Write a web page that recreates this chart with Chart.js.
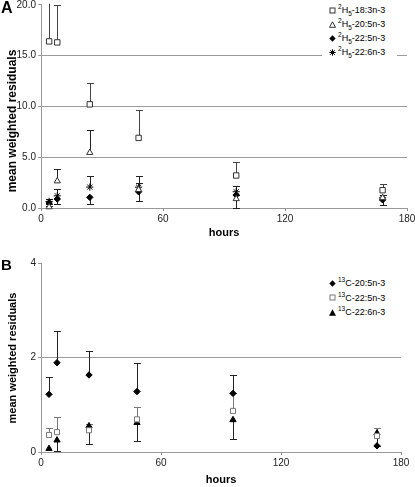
<!DOCTYPE html>
<html><head><meta charset="utf-8">
<script src="https://cdn.jsdelivr.net/npm/chart.js@4.4.0/dist/chart.umd.min.js"></script>
<style>
html,body{margin:0;padding:0;background:#fff;}
#wrap{position:relative;width:415px;height:487px;overflow:hidden;font-family:"Liberation Sans",Arial,sans-serif;}
canvas{position:absolute;left:0;}
.panel{position:absolute;font-weight:bold;color:#000;line-height:1;}
.ytitle{position:absolute;font-weight:bold;color:#000;white-space:nowrap;line-height:1;transform-origin:center;transform:translate(-50%,-50%) rotate(-90deg);}
.legend{position:absolute;background:#fff;}
.lrow{position:absolute;height:12px;font-size:9px;line-height:12px;white-space:nowrap;color:#000;}
.lrow svg{position:absolute;left:0;top:2.5px;}
.lrow span{position:absolute;left:9px;top:0;}
sup,sub{font-size:6.5px;line-height:0;}
</style></head>
<body>
<div id="wrap">
  <canvas id="cA" width="415" height="240" style="top:0"></canvas>
  <canvas id="cB" width="415" height="247" style="top:240px"></canvas>
  <div class="panel" style="left:1px;top:0px;font-size:16px">A</div>
  <div class="panel" style="left:1px;top:257px;font-size:15px">B</div>
  <div class="ytitle" style="left:12px;top:121px;font-size:12px">mean weighted residuals</div>
  <div class="ytitle" style="left:12px;top:358px;font-size:11px">mean weighted residuals</div>
  <div class="legend" id="legA" style="left:322px;top:2px;width:75px;height:58px"></div>
  <div class="legend" id="legB" style="left:322px;top:274px;width:75px;height:46px"></div>
</div>
<script>
// ---------- data ----------
const hoursA = [4, 8, 24, 48, 96, 168];
const seriesA = ['18:3n-3', '20:5n-3', '22:5n-3', '22:6n-3'];
const h183 = [16.4, 16.3, 10.2, 6.9, 3.2, 1.75];
const h183Plus = [8.0, 3.7, 2.1, 2.7, 1.3, 0.65];
const h205 = [0.1, 2.65, 5.45, 1.8, 0.9, 1.0];
const h205Plus = [0.25, 1.15, 2.2, 0.7, 0.4, 0.25];
const h225 = [0.5, 0.88, 1.05, 1.6, 1.27, 0.8];
const h225Minus = [0.35, 0.48, 0.7, 0.9, 1.27, 0.5];
const h226 = [0.65, 1.2, 2.06, 2.05, 1.6, 1.0];
const h226Plus = [0.2, 0.63, 1.1, 1.1, 0.56, 0.27];
const ticksA = [0, 5, 10, 15, 20];

const hoursB = [4, 8, 24, 48, 96, 168];
const seriesB = ['20:5n-3', '22:5n-3', '22:6n-3'];
const c205 = [1.22, 1.89, 1.63, 1.28, 1.24, 0.13];
const c205Plus = [0.36, 0.68, 0.51, 0.60, 0.39, 0];
const c225 = [0.36, 0.42, 0.46, 0.69, 0.87, 0.34];
const c225Plus = [0.14, 0.33, 0.14, 0.27, 0.37, 0.16];
const c226 = [0.07, 0.25, 0.55, 0.62, 0.68, 0.40];
const c226Minus = [0, 0.22, 0.38, 0.39, 0.41, 0.27];
const ticksB = [0, 2, 4];

const xTicks = [0, 60, 120, 180];

// ---------- helpers ----------
Chart.defaults.font.family = '"Liberation Sans", Arial, sans-serif';
const pts = (xs, ys) => xs.map((x, i) => ({x: x, y: ys[i]}));

const errorBars = {
  id: 'errorBars',
  beforeDatasetsDraw(chart) {
    const {ctx, chartArea: a, scales: {x, y}} = chart;
    ctx.save();
    ctx.beginPath();
    ctx.rect(a.left - 10, a.top - 1, a.right - a.left + 20, a.bottom - a.top + 2);
    ctx.clip();
    ctx.lineWidth = 1;
    chart.data.datasets.forEach(ds => {
      ctx.strokeStyle = ds.errColor || '#000';
      ds.data.forEach((p, i) => {
        const px = Math.round(x.getPixelForValue(p.x)) + 0.5;
        const py0 = y.getPixelForValue(p.y);
        const draw = v2 => {
          const py1 = Math.round(y.getPixelForValue(v2)) + 0.5;
          ctx.beginPath();
          ctx.moveTo(px, py0); ctx.lineTo(px, py1);
          ctx.moveTo(px - 3.5, py1); ctx.lineTo(px + 3.5, py1);
          ctx.stroke();
        };
        if (ds.errPlus && ds.errPlus[i] > 0) draw(p.y + ds.errPlus[i]);
        if (ds.errMinus && ds.errMinus[i] > 0) draw(p.y - ds.errMinus[i]);
      });
    });
    ctx.restore();
  }
};

function makeScales(ticks, fmt, xH, yW) {
  const ymax = ticks[ticks.length - 1];
  return {
    x: {
      type: 'linear', min: 0, max: 180,
      afterBuildTicks: s => { s.ticks = xTicks.map(v => ({value: v})); },
      ticks: {padding: 2, color: '#222', font: {size: 10}, maxRotation: 0, autoSkip: false},
      grid: {drawOnChartArea: false, tickLength: 3, tickColor: '#888'},
      border: {color: '#999', width: 1},
      title: {display: true, text: 'hours', font: {size: 11, weight: 'bold'}, color: '#000', padding: 0},
      afterFit: s => { s.height = xH; s.paddingLeft = 0; s.paddingRight = 0; }
    },
    y: {
      type: 'linear', min: 0, max: ymax,
      afterBuildTicks: s => { s.ticks = ticks.map(v => ({value: v})); },
      ticks: {padding: 2, color: '#222', font: {size: 10}, callback: fmt},
      grid: {
        color: c => (c.tick && c.tick.value > 0 && c.tick.value < ymax) ? '#9a9a9a' : 'rgba(0,0,0,0)',
        tickLength: 3, tickColor: '#999'
      },
      border: {color: '#999', width: 1},
      afterFit: s => { s.width = yW; s.paddingTop = 0; s.paddingBottom = 0; }
    }
  };
}

function ds(label, data, style, r, bg, border, errColor, plus, minus) {
  return {
    label: label, data: data, showLine: false, clip: false,
    pointStyle: style, pointRadius: r, pointHoverRadius: r,
    pointBackgroundColor: bg, pointBorderColor: border, pointBorderWidth: 1,
    errColor: errColor, errPlus: plus, errMinus: minus
  };
}

// ---------- chart A ----------
new Chart(document.getElementById('cA'), {
  type: 'scatter',
  data: {
    datasets: [
      ds('²H₅-' + seriesA[0], pts(hoursA, h183), 'rect', 3.8, '#fff', '#333', '#444', h183Plus, null),
      ds('²H₅-' + seriesA[1], pts(hoursA, h205), 'triangle', 3.6, '#fff', '#333', '#222', h205Plus, null),
      ds('²H₅-' + seriesA[2], pts(hoursA, h225), 'rectRot', 3.2, '#000', '#000', '#222', null, h225Minus),
      ds('²H₅-' + seriesA[3], pts(hoursA, h226), 'star', 3.6, '#000', '#000', '#222', h226Plus, null)
    ]
  },
  options: {
    responsive: false, animation: false, devicePixelRatio: 1,
    layout: {padding: {left: 0, right: 8, top: 4, bottom: 0}},
    plugins: {legend: {display: false}, tooltip: {enabled: false}},
    scales: makeScales(ticksA, v => v.toFixed(1), 32, 41)
  },
  plugins: [errorBars]
});

// ---------- chart B ----------
new Chart(document.getElementById('cB'), {
  type: 'scatter',
  data: {
    datasets: [
      ds('¹³C-' + seriesB[0], pts(hoursB, c205), 'rectRot', 3.2, '#000', '#000', '#222', c205Plus, null),
      ds('¹³C-' + seriesB[1], pts(hoursB, c225), 'rect', 3.6, '#fff', '#777', '#777', c225Plus, null),
      ds('¹³C-' + seriesB[2], pts(hoursB, c226), 'triangle', 3.6, '#000', '#000', '#222', null, c226Minus)
    ]
  },
  options: {
    responsive: false, animation: false, devicePixelRatio: 1,
    layout: {padding: {left: 0, right: 14, top: 23, bottom: 0}},
    plugins: {legend: {display: false}, tooltip: {enabled: false}},
    scales: makeScales(ticksB, v => String(v), 35, 41)
  },
  plugins: [errorBars]
});

// ---------- HTML legends ----------
const svgs = {
  rectOpen: c => `<svg width="7" height="7"><rect x="1" y="1" width="5" height="5" fill="#fff" stroke="${c}"/></svg>`,
  triOpen: c => `<svg width="7" height="7"><polygon points="3.5,0.8 6.5,6.3 0.5,6.3" fill="#fff" stroke="${c}"/></svg>`,
  triFill: c => `<svg width="7" height="7"><polygon points="3.5,0.3 7,6.8 0,6.8" fill="${c}"/></svg>`,
  diamond: c => `<svg width="7" height="7"><polygon points="3.5,0.3 6.7,3.5 3.5,6.7 0.3,3.5" fill="${c}"/></svg>`,
  star: c => `<svg width="7" height="7"><path d="M3.5,0.3V6.7M0.3,3.5H6.7M1.2,1.2L5.8,5.8M5.8,1.2L1.2,5.8" stroke="${c}" stroke-width="1"/></svg>`
};
function buildLegend(id, boxTop, rows, marks, prefix, centers) {
  const el = document.getElementById(id);
  rows.forEach((name, i) => {
    const d = document.createElement('div');
    d.className = 'lrow';
    d.style.left = '7px';
    d.style.top = (centers[i] - boxTop - 6) + 'px';
    d.innerHTML = marks[i] + '<span>' + prefix + name + '</span>';
    el.appendChild(d);
  });
}
buildLegend('legA', 2, seriesA,
  [svgs.rectOpen('#333'), svgs.triOpen('#333'), svgs.diamond('#000'), svgs.star('#000')],
  '<sup>2</sup>H<sub>5</sub>-', [10, 24, 38, 52]);
buildLegend('legB', 274, seriesB,
  [svgs.diamond('#000'), svgs.rectOpen('#777'), svgs.triFill('#000')],
  '<sup>13</sup>C-', [283, 297.5, 312]);
</script>
</body></html>
